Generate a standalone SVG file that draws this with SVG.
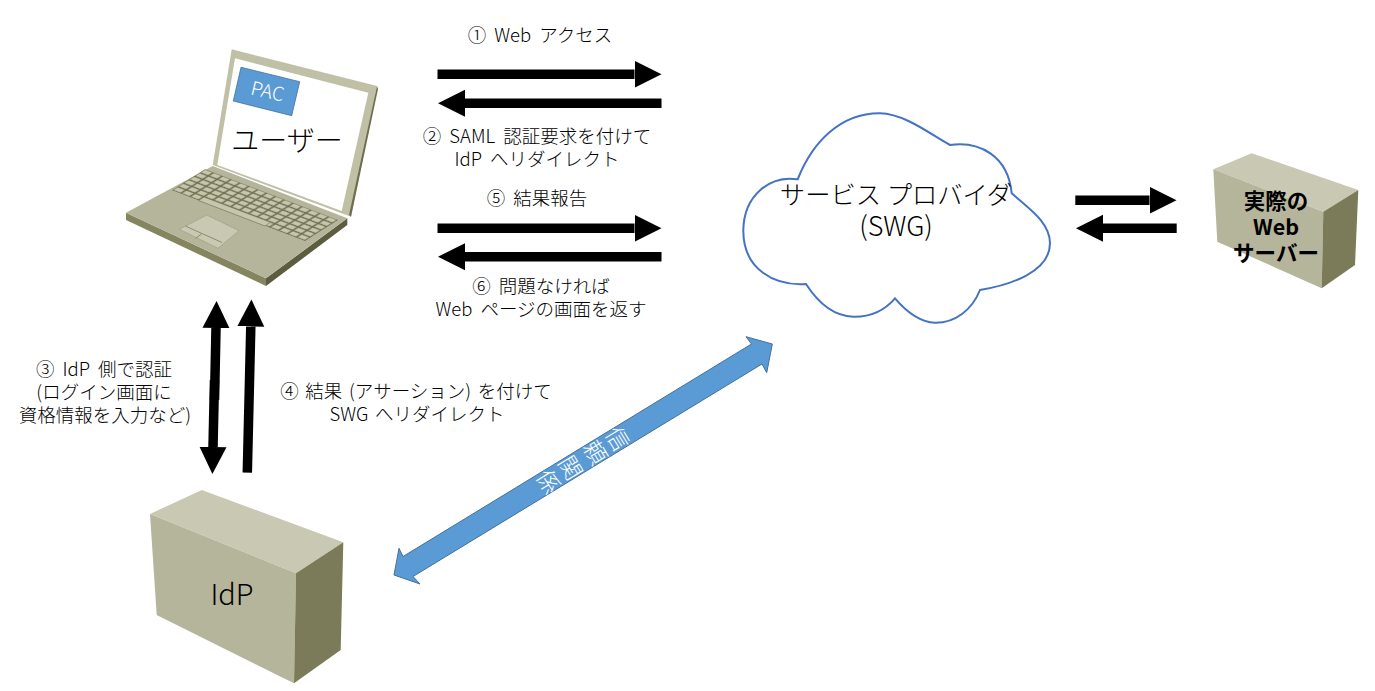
<svg xmlns="http://www.w3.org/2000/svg" width="1375" height="691" viewBox="0 0 1375 691">
<style>
text{font-family:"Noto Sans CJK JP","Noto Sans",sans-serif;font-weight:300;fill:#000;text-anchor:middle}
.l{font-size:18.500px;word-spacing:4px}
.w{font-size:21.500px;font-weight:700}
.t{font-size:23px;fill:#fff}
.conn{stroke:#000;stroke-width:9.5;fill:none;marker-end:url(#h)}
.top{fill:#c9c9b3}.front{fill:#b5b59c}.side{fill:#7b7b59}
</style>
<defs>
<marker id="h" markerUnits="userSpaceOnUse" markerWidth="28" markerHeight="28" refX="0" refY="14" orient="auto">
<path d="M0 .5L27 14L0 27.500z" fill="#000"/>
</marker>
<pattern id="keys" patternUnits="userSpaceOnUse" width="1" height="1" patternTransform="matrix(8.87 3.38 -5.5 3.5 205 169.300)">
<rect width="1" height="1" fill="#6f6f4f"/>
<rect x=".06" y=".08" width=".8" height=".74" fill="#c6c6ae"/>
</pattern>
</defs>
<rect width="1375" height="691" fill="#fff"/>
<g id="cloud">
<path d="M797.700 179.300C812 143 840 113 880 113.300C905 114 930 134 950 145C980 141 1008 156 1011.700 193.300C1028 208 1050 222 1050 243.300C1050 272 1010 285 980 290C972 310 955 323 935 322.700C918 322 905 310 895 298.300C885 310 870 317 853.300 316.700C830 316 815 298 806 284C775 286 743 270 743.300 230C744 195 770 175 797.700 179.300Z" fill="#fff" stroke="#4472c4" stroke-width="2"/>
<text style="font-size:25.300px"><tspan x="896" y="204">サービス プロバイダ</tspan><tspan x="896" y="236" style="font-size:27px">(SWG)</tspan></text>
</g>
<g id="laptop">
<path d="M126 212.700L266 278.300V286L126 220Z" fill="#85855f"/>
<path d="M266 278.300L347.300 218.300V225L266 286Z" fill="#5c5c40"/>
<path d="M126 212.700L212.700 166L347.300 218.300L266 278.300Z" class="front"/>
<path d="M231.700 49.300L377 86L351 216.700L212.700 165Z" fill="#c0c0a6"/>
<path d="M377 86L378 89L351 216.700L349 215Z" fill="#6e6e4e"/>
<path d="M235 58.300L368.300 92.700L341.700 211L217.300 165Z" fill="#fff"/>
<path d="M205 169.300L338 220L305 241L172 190.300Z" fill="url(#keys)"/>
<path d="M204 197L270.500 222.300L265 226L198.500 200.500Z" fill="#c6c6ae" stroke="#6f6f4f" stroke-width=".6"/>
<path d="M206.700 215L239 230.700L218 248.300L179.300 229.300Z" fill="#c9c9b3" stroke="#9a9a7c" stroke-width=".6"/>
<path d="M185.700 226.200L222 242.500M201.500 234L195.500 238.500" stroke="#85855f" fill="none" stroke-width=".9"/>
<path d="M241 67.300L299.700 81.700L291.700 115.700L233.300 101Z" fill="#5b9bd5" stroke="#41719c" stroke-width=".8"/>
<text x="0" y="0" transform="translate(266 98) rotate(13)" style="fill:#fff;font-size:19px">PAC</text>
<text x="287" y="151" style="font-size:28px">ユーザー</text>
</g>
<g id="idp">
<path class="top" d="M201.700 490L343.300 542.300L296 573.300L150 514Z"/>
<path class="front" d="M150 514L296 573.300L294 683.300L156.700 615Z"/>
<path class="side" d="M296 573.300L343.300 542.300L340.700 650L294 683.300Z"/>
<text x="232" y="605" style="font-size:29px">IdP</text>
</g>
<g id="web-server">
<path class="top" d="M1251.700 153.300L1358.300 190L1323.300 211.700L1213.300 169.300Z"/>
<path class="front" d="M1213.300 169.300L1323.300 211.700L1321.700 288.300L1217.300 241.700Z"/>
<path class="side" d="M1323.300 211.700L1358.300 190L1355 265L1321.700 288.300Z"/>
<text class="w"><tspan x="1276" y="209">実際の</tspan><tspan x="1276" y="235">Web</tspan><tspan x="1276" y="261">サーバー</tspan></text>
</g>
<g id="connectors">
<line class="conn" x1="437.500" y1="74.300" x2="634.500" y2="74.300"/>
<line class="conn" x1="661.500" y1="103.300" x2="465" y2="103.300"/>
<line class="conn" x1="437.500" y1="228.300" x2="634.500" y2="228.300"/>
<line class="conn" x1="661.500" y1="256.700" x2="465" y2="256.700"/>
<line class="conn" x1="1075.300" y1="200.300" x2="1149.500" y2="200.300"/>
<line class="conn" x1="1176.700" y1="228.300" x2="1103" y2="228.300"/>
<line class="conn" x1="214.500" y1="400" x2="216" y2="328"/>
<line class="conn" x1="214.500" y1="380" x2="213" y2="447"/>
<line class="conn" x1="247.300" y1="472.700" x2="250.800" y2="326.500"/>
<path id="trust" d="M772.300 344L746 336.700L751.500 344L403 556.500L399 548.300L394 575L420 584L413 576.500L762 364L766.700 372.700Z" fill="#5b9bd5" stroke="#41719c" stroke-width="1"/>
</g>
<g id="labels">
<text class="l" x="540" y="42">① Web アクセス</text>
<text class="l"><tspan x="537" y="143">② SAML 認証要求を付けて</tspan><tspan x="537" y="166">IdP へリダイレクト</tspan></text>
<text class="l" x="537" y="205">⑤ 結果報告</text>
<text class="l"><tspan x="541" y="293">⑥ 問題なければ</tspan><tspan x="541" y="316">Web ページの画面を返す</tspan></text>
<text class="l"><tspan x="104" y="376">③ IdP 側で認証</tspan><tspan x="104" y="399">(ログイン画面に</tspan><tspan x="105" y="422">資格情報を入力など)</tspan></text>
<text class="l" style="word-spacing:2.500px"><tspan x="416" y="398">④ 結果 (アサーション) を付けて</tspan><tspan x="417" y="421">SWG へリダイレクト</tspan></text>
<text class="t" transform="translate(617 439) rotate(58.600)" y="8">信</text>
<text class="t" transform="translate(595 452.700) rotate(58.600)" y="8">頼</text>
<text class="t" transform="translate(570 468) rotate(58.600)" y="8">関</text>
<text class="t" transform="translate(548 482) rotate(58.600)" y="8">係</text>
</g>
</svg>
